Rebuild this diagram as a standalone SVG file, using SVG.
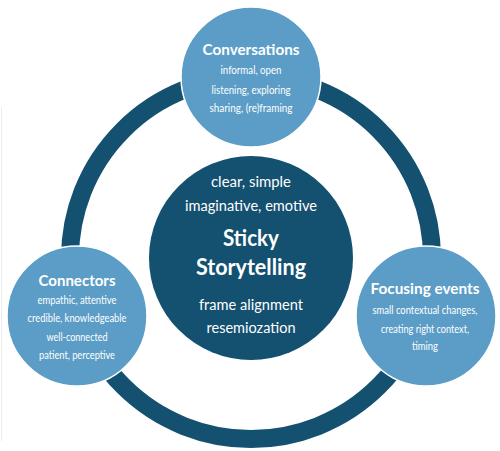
<svg xmlns="http://www.w3.org/2000/svg" width="500" height="451" viewBox="0 0 500 451">
<style>
.light{fill:#5b9dc6;stroke:#ffffff;stroke-width:1.5}
.dark{fill:#145070}
.ring{fill:none;stroke:#145070;stroke-width:18}
text{font-family:Lato,"Open Sans","Liberation Sans",sans-serif;fill:#ffffff;text-anchor:middle}
.t{font-weight:bold;font-size:15.5px}
.s{font-size:11px}
.c{font-size:14.5px}
.big{font-weight:bold;font-size:22px}
</style>
<rect x="0" y="0" width="500" height="451" fill="#ffffff"/>
<line x1="1.5" y1="107" x2="1.5" y2="441" stroke="#ececec" stroke-width="1"/>
<g id="connectors">
<circle class="ring" cx="251" cy="258" r="181"/>
</g>
<g id="sticky-storytelling">
<circle class="dark" cx="251" cy="258" r="102"/>
<text class="c" x="251" y="187" textLength="80" lengthAdjust="spacingAndGlyphs">clear, simple</text>
<text class="c" x="251" y="210.5" textLength="132" lengthAdjust="spacingAndGlyphs">imaginative, emotive</text>
<text class="big" x="251" y="246" textLength="56" lengthAdjust="spacingAndGlyphs">Sticky</text>
<text class="big" x="251" y="275" textLength="110" lengthAdjust="spacingAndGlyphs">Storytelling</text>
<text class="c" x="251" y="310" textLength="104" lengthAdjust="spacingAndGlyphs">frame alignment</text>
<text class="c" x="251" y="333" textLength="89" lengthAdjust="spacingAndGlyphs">resemiozation</text>
</g>
<g id="conversations">
<circle class="light" cx="251" cy="77" r="70"/>
<text class="t" x="251" y="55" textLength="97" lengthAdjust="spacingAndGlyphs">Conversations</text>
<text class="s" x="251" y="74" textLength="61" lengthAdjust="spacingAndGlyphs">informal, open</text>
<text class="s" x="251" y="93.5" textLength="79" lengthAdjust="spacingAndGlyphs">listening, exploring</text>
<text class="s" x="251" y="112" textLength="83" lengthAdjust="spacingAndGlyphs">sharing, (re)framing</text>
</g>
<g id="connectors-node">
<circle class="light" cx="77" cy="316" r="70"/>
<text class="t" x="77" y="285.5" textLength="77" lengthAdjust="spacingAndGlyphs">Connectors</text>
<text class="s" x="77" y="304" textLength="79" lengthAdjust="spacingAndGlyphs">empathic, attentive</text>
<text class="s" x="77" y="322" textLength="99" lengthAdjust="spacingAndGlyphs">credible, knowledgeable</text>
<text class="s" x="77" y="340.5" textLength="61" lengthAdjust="spacingAndGlyphs">well-connected</text>
<text class="s" x="77" y="359" textLength="76" lengthAdjust="spacingAndGlyphs">patient, perceptive</text>
</g>
<g id="focusing-events">
<circle class="light" cx="426" cy="316" r="70"/>
<text class="t" x="425" y="294" textLength="109" lengthAdjust="spacingAndGlyphs">Focusing events</text>
<text class="s" x="425" y="314" textLength="105" lengthAdjust="spacingAndGlyphs">small contextual changes,</text>
<text class="s" x="425" y="333" textLength="88" lengthAdjust="spacingAndGlyphs">creating right context,</text>
<text class="s" x="425" y="350" textLength="26" lengthAdjust="spacingAndGlyphs">timing</text>
</g>
</svg>
